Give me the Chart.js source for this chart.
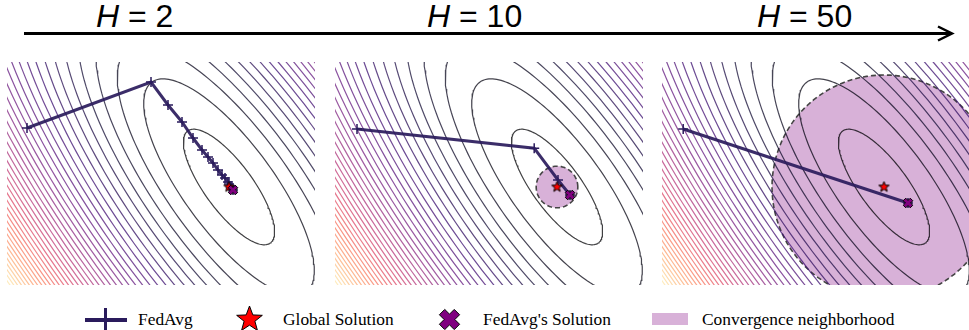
<!DOCTYPE html>
<html>
<head>
<meta charset="utf-8">
<script src="https://cdn.jsdelivr.net/npm/chart.js@4.4.1/dist/chart.umd.min.js"></script>
<style>
  body { margin: 0; background: #fff; width: 969px; height: 330px; overflow: hidden; position: relative; }
  .panel { position: absolute; top: 62px; }
  .title { position: absolute; top: -2px; font-family: "Liberation Sans", sans-serif; font-size: 32px; line-height: 36px; color: #000; white-space: nowrap; }
  .title i { font-style: italic; }
  .leg { position: absolute; top: 308px; font-family: "Liberation Serif", serif; font-size: 17.4px; line-height: 22px; color: #000; white-space: nowrap; }
  .sym { position: absolute; }
</style>
</head>
<body>
<svg width="969" height="60" style="position:absolute;left:0;top:0">
  <line x1="24" y1="33.5" x2="951" y2="33.5" stroke="#000" stroke-width="3"/>
  <polyline points="938,26.5 952,33.5 938,40.5" fill="none" stroke="#000" stroke-width="2.5"/>
</svg>
<div class="title" style="left:96px"><i>H</i> = 2</div>
<div class="title" style="left:427px"><i>H</i> = 10</div>
<div class="title" style="left:757px"><i>H</i> = 50</div>

<canvas id="p1" class="panel" width="308" height="223" style="left:7px"></canvas>
<canvas id="p2" class="panel" width="308" height="223" style="left:335px"></canvas>
<canvas id="p3" class="panel" width="308" height="223" style="left:662px"></canvas>

<canvas id="legFed" class="sym" width="46" height="26" style="left:83px;top:307px"></canvas>
<div class="leg" style="left:138px">FedAvg</div>
<canvas id="legStar" class="sym" width="32" height="32" style="left:234px;top:304px"></canvas>
<div class="leg" style="left:283px">Global Solution</div>
<canvas id="legX" class="sym" width="26" height="26" style="left:437px;top:307px"></canvas>
<div class="leg" style="left:483px">FedAvg's Solution</div>
<canvas id="legBox" class="sym" width="36" height="12" style="left:652px;top:313px"></canvas>
<div class="leg" style="left:702px">Convergence neighborhood</div>

<script>
// FedAvg iterates per panel (H = 2, 10, 50), global optimum at (0, 0)
const fedavgX_H2 = [-5.05, -1.95, -1.525, -1.175, -0.9, -0.675, -0.525, -0.4, -0.275, -0.175, -0.1, -0.025, 0.0, 0.05, 0.075, 0.1];
const fedavgY_H2 = [1.475, 2.625, 2.05, 1.625, 1.225, 0.925, 0.75, 0.6, 0.425, 0.3, 0.225, 0.125, 0.075, 0.025, -0.025, -0.075];
const fedavgX_H10 = [-5.0, -0.57, 0.025, 0.325];
const fedavgY_H10 = [1.45, 0.97, 0.175, -0.2];
const fedavgX_H50 = [-5.02, 0.6];
const fedavgY_H50 = [1.45, -0.4];

const globalX = [0, 0, 0];
const globalY = [0, 0, 0];
const fedSolX = [0.1, 0.325, 0.6];
const fedSolY = [-0.075, -0.2, -0.4];
const neighborhoodR = [0.06, 0.52, 2.8];

// loss landscape: elliptic contours around the optimum
const ellipseMajor = 1.74;
const ellipseMinor = 0.60;
const ellipseAngle = -53.6;
const contourLevels = [1, 3.5, 6, 8.5, 11, 13.5, 16, 18.5, 21, 23.5, 26, 28.5, 31, 33.5, 36, 38.5,
  41, 43.5, 46, 48.5, 51, 53.5, 56, 58.5, 61, 63.5, 66, 68.5, 71, 73.5, 76, 78.5, 81, 83.5,
  86, 88.5, 91, 93.5, 96, 98.5, 101];

const xRange = [-5.55, 2.15];
const yRange = [-2.45, 3.125];

const trajColor = '#2a1b5c';
const plum = '#d8b1d8';

const magma = [[0,0,4],[20,14,54],[59,15,112],[100,26,128],[140,41,129],[183,55,121],
  [222,73,104],[247,112,92],[254,159,109],[254,207,146],[252,253,191]];

function cmap(t, alpha) {
    t = Math.max(0, Math.min(1, t)) * 10;
    const i = Math.min(9, Math.floor(t));
    const f = t - i;
    const c = magma[i].map((v, j) => Math.round(v + (magma[i + 1][j] - v) * f));
    return 'rgba(' + c.join(',') + ',' + alpha + ')';
}

function ellipsePts(level) {
    const s = Math.sqrt(level);
    const A = ellipseAngle * Math.PI / 180;
    const pts = [];
    const n = 180;
    for (let i = 0; i <= n; i++) {
        const p = 2 * Math.PI * i / n;
        const u = ellipseMajor * s * Math.cos(p);
        const v = ellipseMinor * s * Math.sin(p);
        pts.push({x: u * Math.cos(A) - v * Math.sin(A), y: u * Math.sin(A) + v * Math.cos(A)});
    }
    return pts;
}

function circlePts(cx, cy, r) {
    const pts = [];
    for (let i = 0; i <= 120; i++) {
        const p = 2 * Math.PI * i / 120;
        pts.push({x: cx + r * Math.cos(p), y: cy + r * Math.sin(p)});
    }
    return pts;
}

function starImage(r) {
    const c = document.createElement('canvas');
    c.width = c.height = Math.ceil(2 * r + 4);
    const ctx = c.getContext('2d');
    const m = c.width / 2;
    ctx.beginPath();
    for (let i = 0; i < 10; i++) {
        const rr = i % 2 === 0 ? r : r * 0.42;
        const a = -Math.PI / 2 + i * Math.PI / 5;
        ctx.lineTo(m + rr * Math.cos(a), m + rr * Math.sin(a));
    }
    ctx.closePath();
    ctx.fillStyle = '#ff0000';
    ctx.fill();
    ctx.lineWidth = 1;
    ctx.strokeStyle = '#000';
    ctx.stroke();
    return c;
}

function xImage(s) {
    const c = document.createElement('canvas');
    c.width = c.height = Math.ceil(2 * s + 4);
    const ctx = c.getContext('2d');
    const m = c.width / 2;
    const t = s * 0.36;
    const base = [[t,s],[t,t],[s,t],[s,-t],[t,-t],[t,-s],[-t,-s],[-t,-t],[-s,-t],[-s,t],[-t,t],[-t,s]];
    const k = Math.SQRT1_2;
    ctx.beginPath();
    base.forEach(p => ctx.lineTo(m + (p[0] - p[1]) * k, m + (p[0] + p[1]) * k));
    ctx.closePath();
    ctx.fillStyle = '#800080';
    ctx.fill();
    ctx.lineWidth = 1;
    ctx.strokeStyle = '#000';
    ctx.stroke();
    return c;
}

const starSmall = starImage(5.5);
const xSmall = xImage(5);

function makePanel(id, k, fx, fy) {
    const datasets = [];
    datasets.push({
        data: [{x: fedSolX[k], y: fedSolY[k]}],
        pointStyle: xSmall, pointRadius: 5, order: 0
    });
    datasets.push({
        data: [{x: globalX[k], y: globalY[k]}],
        pointStyle: starSmall, pointRadius: 6, order: 1
    });
    datasets.push({
        data: fx.map((x, i) => ({x: x, y: fy[i]})),
        showLine: true, borderColor: 'rgba(42,27,92,0.92)', borderWidth: 3,
        pointStyle: 'cross', pointRadius: 5, pointBorderWidth: 1.5,
        pointBorderColor: trajColor, order: 2
    });
    contourLevels.forEach((lv, i) => {
        datasets.push({
            data: ellipsePts(lv), showLine: true,
            borderColor: cmap(i / (contourLevels.length - 1), 0.75), borderWidth: 1.2,
            pointRadius: 0, order: 5
        });
    });
    datasets.push({
        data: circlePts(globalX[k], globalY[k], neighborhoodR[k]), showLine: true,
        fill: 'shape', backgroundColor: plum, borderColor: '#444',
        borderDash: [5, 3], borderWidth: 1.6, pointRadius: 0, order: 10
    });

    new Chart(document.getElementById(id), {
        type: 'scatter',
        data: {datasets: datasets},
        options: {
            responsive: false,
            animation: false,
            devicePixelRatio: 1,
            events: [],
            layout: {padding: 0, autoPadding: false},
            scales: {
                x: {type: 'linear', display: false, min: xRange[0], max: xRange[1]},
                y: {type: 'linear', display: false, min: yRange[0], max: yRange[1]}
            },
            plugins: {legend: {display: false}, tooltip: {enabled: false}}
        }
    });
}

makePanel('p1', 0, fedavgX_H2, fedavgY_H2);
makePanel('p2', 1, fedavgX_H10, fedavgY_H10);
makePanel('p3', 2, fedavgX_H50, fedavgY_H50);

// legend symbols
let ctx = document.getElementById('legFed').getContext('2d');
ctx.strokeStyle = trajColor;
ctx.lineWidth = 4;
ctx.beginPath(); ctx.moveTo(2, 13); ctx.lineTo(44, 13); ctx.stroke();
ctx.lineWidth = 3;
ctx.beginPath(); ctx.moveTo(22.5, 1); ctx.lineTo(22.5, 25); ctx.stroke();

ctx = document.getElementById('legStar').getContext('2d');
ctx.drawImage(starImage(13.5), 0, 0);
ctx = document.getElementById('legX').getContext('2d');
ctx.drawImage(xImage(10.5), 0, 0);
ctx = document.getElementById('legBox').getContext('2d');
ctx.fillStyle = plum;
ctx.fillRect(0, 0, 36, 12);
</script>
</body>
</html>
